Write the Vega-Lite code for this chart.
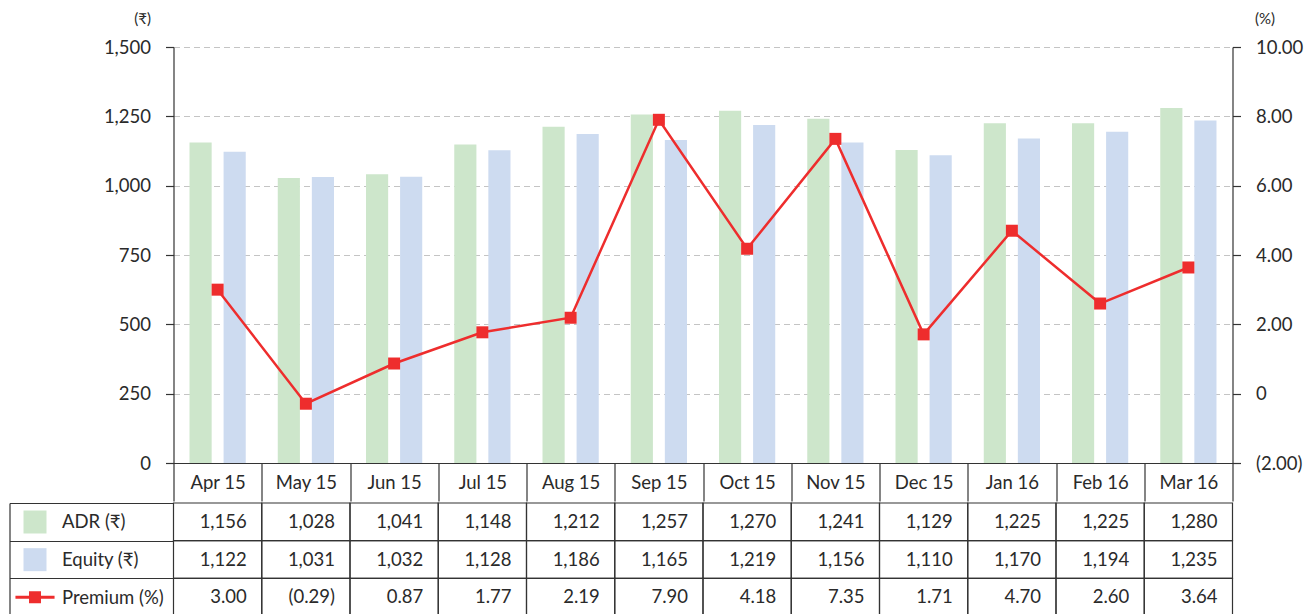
{
  "$schema": "https://vega.github.io/schema/vega-lite/v6.json",
  "padding": {"left": 8.5, "top": 11, "right": 0, "bottom": 0},
  "autosize": {"type": "pad"},
  "spacing": 0,
  "datasets": {
    "monthly": [
      {"month": "Apr 15", "series": "ADR", "value": 1156},
      {"month": "May 15", "series": "ADR", "value": 1028},
      {"month": "Jun 15", "series": "ADR", "value": 1041},
      {"month": "Jul 15", "series": "ADR", "value": 1148},
      {"month": "Aug 15", "series": "ADR", "value": 1212},
      {"month": "Sep 15", "series": "ADR", "value": 1257},
      {"month": "Oct 15", "series": "ADR", "value": 1270},
      {"month": "Nov 15", "series": "ADR", "value": 1241},
      {"month": "Dec 15", "series": "ADR", "value": 1129},
      {"month": "Jan 16", "series": "ADR", "value": 1225},
      {"month": "Feb 16", "series": "ADR", "value": 1225},
      {"month": "Mar 16", "series": "ADR", "value": 1280},
      {"month": "Apr 15", "series": "Equity", "value": 1122},
      {"month": "May 15", "series": "Equity", "value": 1031},
      {"month": "Jun 15", "series": "Equity", "value": 1032},
      {"month": "Jul 15", "series": "Equity", "value": 1128},
      {"month": "Aug 15", "series": "Equity", "value": 1186},
      {"month": "Sep 15", "series": "Equity", "value": 1165},
      {"month": "Oct 15", "series": "Equity", "value": 1219},
      {"month": "Nov 15", "series": "Equity", "value": 1156},
      {"month": "Dec 15", "series": "Equity", "value": 1110},
      {"month": "Jan 16", "series": "Equity", "value": 1170},
      {"month": "Feb 16", "series": "Equity", "value": 1194},
      {"month": "Mar 16", "series": "Equity", "value": 1235},
      {"month": "Apr 15", "series": "Premium", "value": 3.00},
      {"month": "May 15", "series": "Premium", "value": -0.29},
      {"month": "Jun 15", "series": "Premium", "value": 0.87},
      {"month": "Jul 15", "series": "Premium", "value": 1.77},
      {"month": "Aug 15", "series": "Premium", "value": 2.19},
      {"month": "Sep 15", "series": "Premium", "value": 7.90},
      {"month": "Oct 15", "series": "Premium", "value": 4.18},
      {"month": "Nov 15", "series": "Premium", "value": 7.35},
      {"month": "Dec 15", "series": "Premium", "value": 1.71},
      {"month": "Jan 16", "series": "Premium", "value": 4.70},
      {"month": "Feb 16", "series": "Premium", "value": 2.60},
      {"month": "Mar 16", "series": "Premium", "value": 3.64}
    ]
  },
  "resolve": {
    "scale": {"color": "independent", "shape": "independent", "x": "independent", "y": "independent"},
    "legend": {"color": "independent", "shape": "independent"}
  },
  "vconcat": [
    {
      "width": 1059,
      "height": 416,
      "data": {"name": "monthly"},
      "encoding": {
        "x": {
          "field": "month", "type": "nominal", "sort": null,
          "scale": {"paddingInner": 0, "paddingOuter": 0},
          "axis": {
            "orient": "bottom", "title": null, "labelAngle": 0,
            "tickBand": "extent", "tickSize": 38, "labelPadding": -19,
            "labelBaseline": "middle", "labelFontSize": 18.5,
            "domainColor": "#333", "tickColor": "#333", "domainWidth": 1.2, "tickWidth": 1.2
          }
        }
      },
      "layer": [
        {
          "transform": [{"filter": "datum.series !== 'Premium'"}],
          "mark": {"type": "bar"},
          "encoding": {
            "xOffset": {"field": "series", "type": "nominal", "scale": {"domain": ["ADR", "Equity"], "paddingInner": 0.35, "paddingOuter": 0.47}},
            "y": {
              "field": "value", "type": "quantitative",
              "scale": {"domain": [0, 1500], "nice": false, "zero": true},
              "axis": {
                "orient": "left", "values": [0, 250, 500, 750, 1000, 1250, 1500], "format": ",.0f",
                "title": "(₹)", "titleAngle": 0, "titleAlign": "right", "titleBaseline": "middle",
                "titleX": -23, "titleY": -29, "titleFontSize": 15, "titleFontWeight": "normal",
                "tickSize": 8, "labelPadding": 15, "labelFontSize": 18.5,
                "grid": true, "gridDash": [6, 4], "gridColor": "#c4c4c4",
                "domainColor": "#333", "tickColor": "#333", "domainWidth": 1.2, "tickWidth": 1.2
              }
            },
            "color": {"field": "series", "type": "nominal", "scale": {"domain": ["ADR", "Equity"], "range": ["#cde6cb", "#cddbf0"]}, "legend": null}
          }
        },
        {
          "transform": [{"filter": "datum.series === 'Premium'"}],
          "layer": [
            {"mark": {"type": "line", "color": "#ee2d2d", "strokeWidth": 2.5}},
            {"mark": {"type": "square", "color": "#ee2d2d", "size": 144, "opacity": 1}}
          ],
          "encoding": {
            "y": {
              "field": "value", "type": "quantitative",
              "scale": {"domain": [-2, 10], "nice": false, "zero": false},
              "axis": {
                "orient": "right", "values": [-2, 0, 2, 4, 6, 8, 10],
                "labelExpr": "datum.value == 0 ? '0' : format(datum.value, '(.2f')",
                "title": "(%)", "titleAngle": 0, "titleAlign": "left", "titleBaseline": "middle",
                "titleX": 22, "titleY": -29, "titleFontSize": 15, "titleFontWeight": "normal",
                "tickSize": 8, "labelPadding": 15, "labelFontSize": 18.5, "grid": false,
                "domainColor": "#333", "tickColor": "#333", "domainWidth": 1.2, "tickWidth": 1.2
              }
            }
          }
        }
      ],
      "resolve": {"scale": {"y": "independent"}}
    },
    {
      "width": 1059,
      "height": 113,
      "data": {"name": "monthly"},
      "encoding": {
        "x": {"field": "month", "type": "nominal", "sort": null, "scale": {"paddingInner": 0, "paddingOuter": 0}, "axis": null},
        "y": {
          "field": "series", "type": "nominal",
          "scale": {"domain": ["ADR", "Equity", "Premium"], "paddingInner": 0, "paddingOuter": 0},
          "axis": {
            "orient": "left", "offset": 164, "title": null, "grid": false,
            "domain": true, "domainColor": "#333", "domainWidth": 1.2,
            "ticks": true, "tickOffset": -18.83, "labelOffset": 18.83, "tickSize": -164, "tickColor": "#333", "tickWidth": 1.2,
            "labelAlign": "left", "labelPadding": 112, "labelFontSize": 18.5, "labelBaseline": "middle",
            "labelExpr": "datum.value == 'ADR' ? 'ADR (₹)' : datum.value == 'Equity' ? 'Equity (₹)' : datum.value == 'Premium' ? 'Premium (%)' : ''"
          }
        }
      },
      "layer": [
        {"mark": {"type": "rect", "fill": "white", "fillOpacity": 0, "stroke": "#333", "strokeWidth": 1.2}},
        {
          "transform": [{"filter": "datum.series !== 'Premium'"}],
          "mark": {"type": "text", "align": "right", "baseline": "middle", "dx": -15, "fontSize": 18.5, "color": "#2a2a2a"},
          "encoding": {
            "x": {"field": "month", "type": "nominal", "sort": null, "bandPosition": 1},
            "text": {"field": "value", "type": "quantitative", "format": ","}
          }
        },
        {
          "transform": [{"filter": "datum.series === 'Premium'"}],
          "mark": {"type": "text", "align": "right", "baseline": "middle", "dx": -15, "fontSize": 18.5, "color": "#2a2a2a"},
          "encoding": {
            "x": {"field": "month", "type": "nominal", "sort": null, "bandPosition": 1},
            "text": {"field": "value", "type": "quantitative", "format": "(.2f"}
          }
        },
        {
          "mark": {"type": "point", "filled": true, "opacity": 0},
          "encoding": {
            "color": {
              "field": "series", "type": "nominal",
              "scale": {"domain": ["ADR", "Equity", "Premium"], "range": ["#cde6cb", "#cddbf0", "#ee2d2d"]},
              "legend": {
                "orient": "none", "legendX": -150, "legendY": 7.5, "title": null, "padding": 0,
                "labelExpr": "''", "labelFontSize": 1, "symbolSize": 529, "rowPadding": 14.67,
                "symbolOpacity": 1, "symbolStrokeWidth": 0
              }
            },
            "shape": {
              "field": "series", "type": "nominal",
              "scale": {"domain": ["ADR", "Equity", "Premium"], "range": ["square", "square", "M-1.7,-0.13H1.7V0.13H-1.7Z M-0.52,-0.52H0.52V0.52H-0.52Z"]},
              "legend": {
                "orient": "none", "legendX": -150, "legendY": 7.5, "title": null, "padding": 0,
                "labelExpr": "''", "labelFontSize": 1, "symbolSize": 529, "rowPadding": 14.67,
                "symbolOpacity": 1, "symbolStrokeWidth": 0
              }
            }
          }
        }
      ]
    }
  ],
  "config": {
    "font": "Lato, DejaVu Sans",
    "view": {"stroke": null},
    "axis": {"labelColor": "#2a2a2a", "titleColor": "#2a2a2a", "labelFont": "Lato, DejaVu Sans", "titleFont": "Lato, DejaVu Sans"},
    "text": {"font": "Lato, DejaVu Sans"}
  }
}
